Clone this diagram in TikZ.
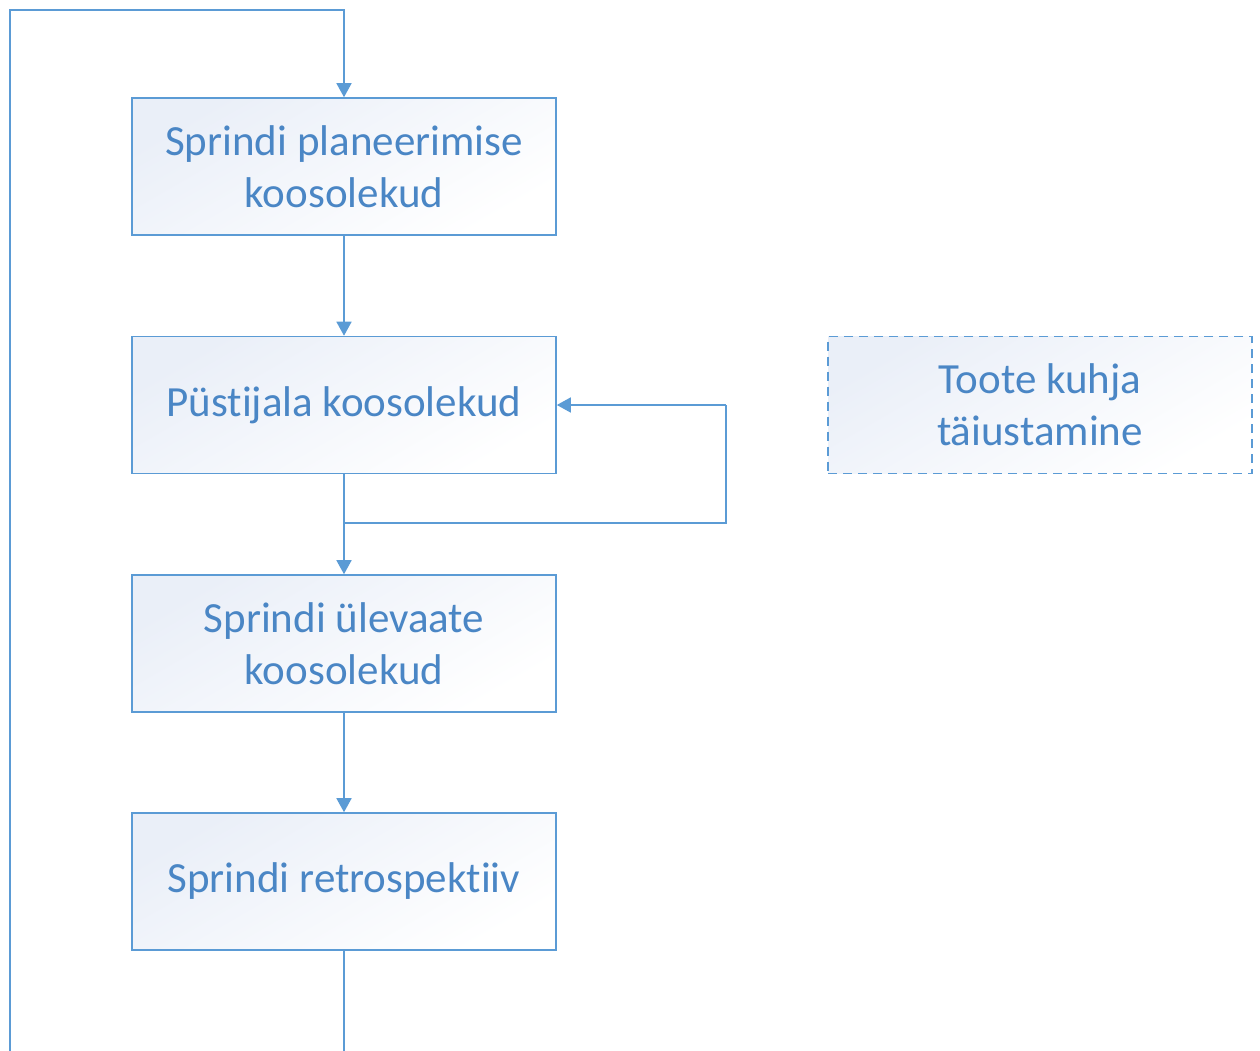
\documentclass[tikz,border=0pt]{standalone}
\usepackage{fontspec}
\setmainfont{Carlito}[Ligatures=NoCommon]
\usetikzlibrary{arrows.meta}
\definecolor{lineblue}{HTML}{5B9BD5}
\definecolor{textblue}{HTML}{4A86C5}
\definecolor{fillblue}{HTML}{EAEFF8}
\tikzset{
  boxnode/.style={draw=lineblue, line width=1.6pt, minimum width=424pt, minimum height=137pt,
    inner sep=0pt, align=center, text=textblue, font=\fontsize{43pt}{52pt}\selectfont,
    top color=fillblue, bottom color=white, shading angle=30},
  dashbox/.style={boxnode, dash pattern=on 9pt off 6pt},
  conn/.style={draw=lineblue, line width=1.6pt},
  arr/.style={conn, -{Triangle[width=15pt,length=14pt]}},
}
\begin{document}
\begin{tikzpicture}[x=1pt,y=-1pt]
\useasboundingbox (0,0) rectangle (1260,1050);
\node[boxnode] (plan) at (344,166.5) {Sprindi planeerimise\\koosolekud};
\node[boxnode] (daily) at (344,405) {Püstijala koosolekud};
\node[boxnode] (review) at (344,643.5) {Sprindi ülevaate\\koosolekud};
\node[boxnode] (retro) at (344,881.5) {Sprindi retrospektiiv};
\node[dashbox] (backlog) at (1040,405) {Toote kuhja\\täiustamine};
\coordinate (bot) at (344,1052);
\coordinate (botl) at (10,1052);
\coordinate (topl) at (10,10);
\coordinate (topr) at (344,10);
\coordinate (jn) at (344,523);
\coordinate (jr) at (726,523);
\coordinate (jt) at (726,405);
\draw[arr] (plan) -- (daily);
\draw[arr] (daily) -- (review);
\draw[conn] (jn) -- (jr) -- (jt);
\draw[arr] (jt) -- (daily.east);
\draw[arr] (review) -- (retro);
\draw[conn] (retro) -- (bot);
\draw[arr] (botl) -- (topl) -- (topr) -- (plan.north);
\end{tikzpicture}
\end{document}
